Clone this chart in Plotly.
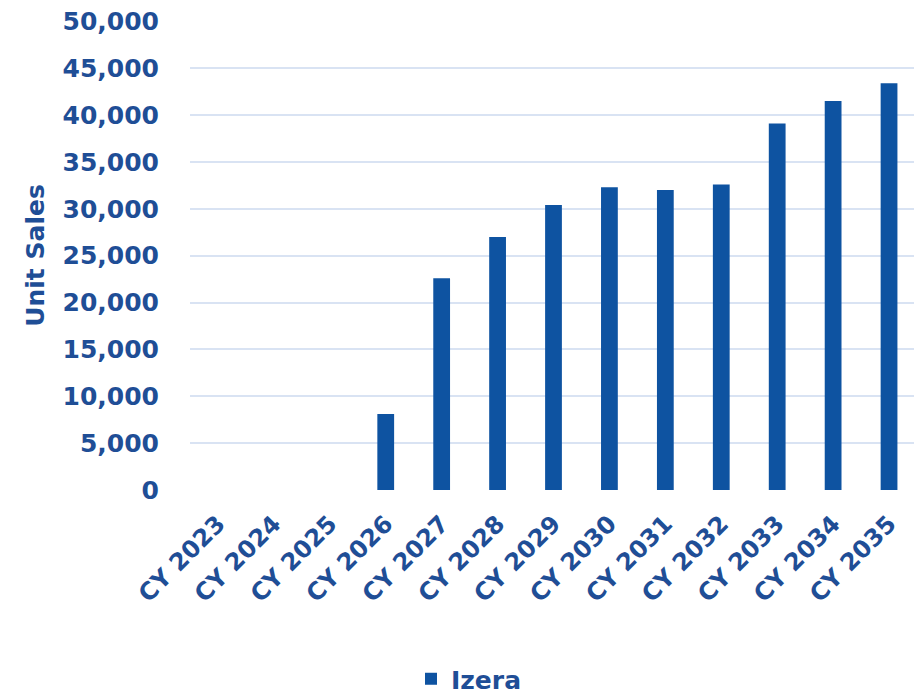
import plotly.graph_objects as go

categories = ["CY 2023", "CY 2024", "CY 2025", "CY 2026", "CY 2027", "CY 2028", "CY 2029",
              "CY 2030", "CY 2031", "CY 2032", "CY 2033", "CY 2034", "CY 2035"]
izera = [0, 0, 0, 8100, 22600, 27000, 30400, 32300, 32000, 32600, 39100, 41500, 43400]
y_ticks = [0, 5000, 10000, 15000, 20000, 25000, 30000, 35000, 40000, 45000, 50000]

blue = "#0E53A1"
text_blue = "#1F4E96"
grid = "#D9E3F3"
font_family = "'DejaVu Sans', sans-serif"

fig = go.Figure()
fig.add_trace(go.Bar(
    x=categories, y=izera, name="Izera",
    marker=dict(color=blue, line=dict(width=0)),
))

fig.update_layout(
    width=922, height=695,
    paper_bgcolor="white", plot_bgcolor="white",
    margin=dict(l=182, r=13, t=13, b=213, autoexpand=False),
    bargap=0.70,
    font=dict(family=font_family, color=text_blue, size=24),
    showlegend=True,
    legend=dict(orientation="h", xref="container", x=0.5, xanchor="center",
                yref="paper", y=-0.403, yanchor="middle",
                font=dict(size=25, family=font_family, color=text_blue, weight="bold")),
    xaxis=dict(
        tickangle=-45, showgrid=False, zeroline=False, showline=False, automargin=False,
        ticklabelstandoff=14,
        tickfont=dict(size=24, family=font_family, color=text_blue, weight="bold"),
    ),
    yaxis=dict(
        range=[0, 50040], tickvals=y_ticks, tickformat=",", showgrid=True, automargin=False,
        gridcolor=grid, gridwidth=2, zeroline=False, showline=False,
        ticklabeloverflow="allow",
        tickfont=dict(size=25, family=font_family, color=text_blue, weight="bold"),
        ticklabelstandoff=30,
        title=dict(text="Unit Sales", standoff=10,
                   font=dict(size=25, family=font_family, color=text_blue, weight="bold")),
    ),
)

fig.write_html("out.html")
